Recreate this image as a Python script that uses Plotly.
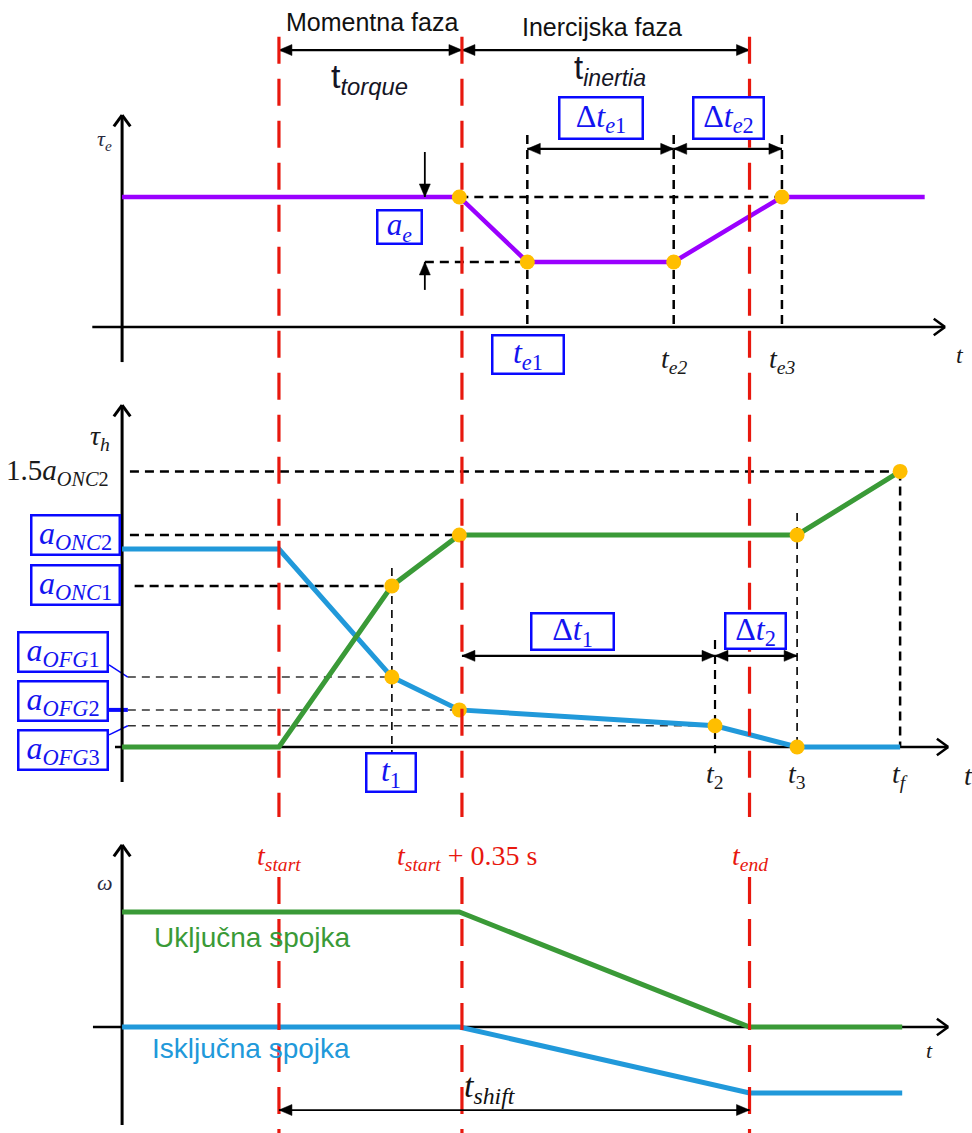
import math
import plotly.graph_objects as go

# ---------------- time instants (s) ----------------
T0 = 0.0
T_START = 0.30
T_TORQUE = 0.35
T_SYNC = T_START + T_TORQUE
T_END = 1.20
T_KNEE = 0.645
T_E1, T_E2, T_E3 = 0.775, 1.055, 1.262
T_1, T_2, T_3, T_F = 0.516, 1.134, 1.291, 1.488
T_TAIL_E = 1.535
T_TAIL = 1.492

# ---------------- engine torque tau_e ----------------
tau_e_t = [T0, T_KNEE, T_E1, T_E2, T_E3, T_TAIL_E]
tau_e_v = [1.0, 1.0, 0.5, 0.5, 1.0, 1.0]
tau_e_dot_t = [T_KNEE, T_E1, T_E2, T_E3]
tau_e_dot_v = [1.0, 0.5, 0.5, 1.0]
TAU_E_HI, TAU_E_LO = 1.0, 0.5

# ---------------- clutch torques tau_h ----------------
A_ONC2, A_ONC1 = 1.0, 0.76
A_OFG0 = 0.934
A_OFG1, A_OFG2, A_OFG3 = 0.33, 0.175, 0.10
A_PEAK = 1.30
off_t = [T0, T_START, T_1, T_KNEE, T_2, T_3, T_F]
off_v = [A_OFG0, A_OFG0, A_OFG1, A_OFG2, A_OFG3, 0.0, 0.0]
on_t = [T0, T_START, T_1, T_KNEE, T_3, T_F]
on_v = [0.0, 0.0, A_ONC1, A_ONC2, A_ONC2, A_PEAK]
dots_h_t = [T_1, T_1, T_KNEE, T_KNEE, T_2, T_3, T_3, T_F]
dots_h_v = [A_ONC1, A_OFG1, A_ONC2, A_OFG2, A_OFG3, A_ONC2, 0.0, A_PEAK]

# ---------------- slip speeds omega ----------------
w_t = [T0, T_KNEE, T_END, T_TAIL]
w_on_v = [1.0, 1.0, 0.0, 0.0]
w_off_v = [0.0, 0.0, -0.574, -0.574]

# ---------------- axis ranges ----------------
W, H = 972, 1133
X_RANGE = [-0.2335, 1.6255]
Y_RANGES = {"y": [-6.2, 2.515], "y2": [-1.8208, 3.5236], "y3": [-0.9217, 8.9304]}
SX = W / (X_RANGE[1] - X_RANGE[0])
SY = {k: H / (r[1] - r[0]) for k, r in Y_RANGES.items()}

# ---------------- styling ----------------
SERIF = "Liberation Serif"
SANS = "Liberation Sans"
PURPLE = "#9A00FF"
GREEN = "#3A9A37"
BLUE = "#2199DA"
ORANGE = "#FFBE00"
RED = "#E8180E"
BOXBLUE = "#0A0AFF"
BLACK = "#000000"
DASH = "9px,6px"
THIN = "8px,6px"

fig = go.Figure()


def line(xs, ys, yax, color, width, dash="solid"):
    fig.add_trace(go.Scatter(x=xs, y=ys, yaxis=yax, mode="lines",
                             line=dict(color=color, width=width, dash=dash),
                             hoverinfo="skip", showlegend=False))


def dots(xs, ys, yax):
    fig.add_trace(go.Scatter(x=xs, y=ys, yaxis=yax, mode="markers",
                             marker=dict(color=ORANGE, size=15, line=dict(width=0)),
                             hoverinfo="skip", showlegend=False))


def heading(x0, y0, x1, y1, yax):
    # screen direction (radians, clockwise from up) of x0,y0 -> x1,y1
    dx = (x1 - x0) * SX
    dy = (y1 - y0) * SY[yax]
    return math.atan2(dx, dy)


def offset(x, y, ang, dist, yax):
    return x + dist * math.sin(ang) / SX, y + dist * math.cos(ang) / SY[yax]


def head(x, y, ang, yax, length=13, half=5.5):
    # filled triangular arrowhead with its tip at (x, y)
    bx, by = offset(x, y, ang + math.pi, length, yax)
    p1 = offset(bx, by, ang + math.pi / 2, half, yax)
    p2 = offset(bx, by, ang - math.pi / 2, half, yax)
    fig.add_trace(go.Scatter(x=[x, p1[0], p2[0], x], y=[y, p1[1], p2[1], y],
                             yaxis=yax, mode="lines", fill="toself",
                             fillcolor=BLACK, line=dict(color=BLACK, width=0.5),
                             hoverinfo="skip", showlegend=False))


def dim_arrow(x0, y0, x1, y1, yax, width=2.2, both=True):
    ang = heading(x0, y0, x1, y1, yax)
    line([x0, x1], [y0, y1], yax, BLACK, width)
    head(x1, y1, ang, yax)
    if both:
        head(x0, y0, ang + math.pi, yax)


def axis_arrow(x0, y0, x1, y1, yax, width=3, arm=14, spread=36):
    # axis line finished with an open chevron at (x1, y1)
    ang = heading(x0, y0, x1, y1, yax)
    xs, ys = [x0, x1, None], [y0, y1, None]
    for s in (-1, 1):
        ax_, ay_ = offset(x1, y1, ang + math.pi + s * math.radians(spread), arm, yax)
        xs += [ax_, x1, None]
        ys += [ay_, y1, None]
    fig.add_trace(go.Scatter(x=xs, y=ys, yaxis=yax, mode="lines",
                             line=dict(color=BLACK, width=width),
                             hoverinfo="skip", showlegend=False))


# ---- panel 1 guides ----
line([T_KNEE, T_E3], [TAU_E_HI, TAU_E_HI], "y", BLACK, 2.5, DASH)
line([0.579, T_E1], [TAU_E_LO, TAU_E_LO], "y", BLACK, 2.5, DASH)
for tt in (T_E1, T_E2, T_E3):
    line([tt, tt], [1.477, 0.0], "y", BLACK, 2.5, DASH)

# ---- panel 2 guides ----
line([0.015, T_F], [A_PEAK, A_PEAK], "y2", BLACK, 2.5, DASH)
line([0.015, T_KNEE], [A_ONC2, A_ONC2], "y2", BLACK, 2.5, DASH)
line([0.024, T_1], [A_ONC1, A_ONC1], "y2", BLACK, 2.5, DASH)
line([0.011, T_1], [A_OFG1, A_OFG1], "y2", "#333333", 1.5, THIN)
line([0.011, T_KNEE], [A_OFG2, A_OFG2], "y2", "#333333", 1.5, THIN)
line([0.011, T_2], [A_OFG3, A_OFG3], "y2", "#333333", 1.5, THIN)
line([T_1, T_1], [0.844, -0.03], "y2", BLACK, 1.6, THIN)
line([T_2, T_2], [0.505, -0.03], "y2", BLACK, 2.2, DASH)
line([T_3, T_3], [1.104, 0.0], "y2", BLACK, 1.6, THIN)
line([T_F, T_F], [A_PEAK, 0.0], "y2", BLACK, 2.5, DASH)

# label connectors
line([-0.025, 0.011], [0.387, A_OFG1], "y2", BOXBLUE, 1.5)
line([-0.025, 0.011], [A_OFG2, A_OFG2], "y2", BOXBLUE, 4)
line([-0.025, 0.011], [0.057, A_OFG3], "y2", BOXBLUE, 1.5)

# ---- coordinate axes ----
axis_arrow(T0, -0.27, T0, 1.63, "y")
axis_arrow(-0.057, 0, 1.574, 0, "y", width=2.5)
axis_arrow(T0, -0.165, T0, 1.613, "y2")
axis_arrow(-0.0136, 0, 1.58, 0, "y2", width=2.5)
axis_arrow(T0, -0.852, T0, 1.583, "y3")
axis_arrow(-0.0557, 0, 1.58, 0, "y3", width=2.5)

# ---- curves ----
line(tau_e_t, tau_e_v, "y", PURPLE, 4.5)
line(off_t, off_v, "y2", BLUE, 5)
line(on_t, on_v, "y2", GREEN, 5)
line(w_t, w_on_v, "y3", GREEN, 5)
line(w_t, w_off_v, "y3", BLUE, 5)

# ---- phase boundaries ----
for tt in (T_START, T_SYNC, T_END):
    line([tt, tt, None, tt, tt], [8.61, 1.826, None, 1.304, -0.93], "y3",
         RED, 3.2, "27px,15px")

dots(tau_e_dot_t, tau_e_dot_v, "y")
dots(dots_h_t, dots_h_v, "y2")

# ---- dimension arrows ----
dim_arrow(T_START, 2.13, T_SYNC, 2.13, "y")
dim_arrow(T_SYNC, 2.13, T_END, 2.13, "y")
dim_arrow(T_E1, 1.37, T_E2, 1.37, "y")
dim_arrow(T_E2, 1.37, T_E3, 1.37, "y")
dim_arrow(0.579, 1.346, 0.579, TAU_E_HI, "y", width=1.8, both=False)
dim_arrow(0.579, 0.285, 0.579, TAU_E_LO, "y", width=1.8, both=False)
dim_arrow(T_SYNC, 0.43, T_2, 0.43, "y2")
dim_arrow(T_2, 0.43, T_3, 0.43, "y2")
dim_arrow(T_START, -0.722, T_END, -0.722, "y3", width=1.8)

ann = []


def text(x, y, yref, s, size, family=SERIF, color="#1a1a1a", xanchor="center"):
    ann.append(dict(x=x, y=y, xref="x", yref=yref, text=s, showarrow=False,
                    xanchor=xanchor, yanchor="middle",
                    font=dict(family=family, size=size, color=color)))


def box(x, y, yref, s, w, h, size=30):
    ann.append(dict(x=x, y=y, xref="x", yref=yref, text=s, showarrow=False,
                    xanchor="center", yanchor="middle", width=w - 4, height=h - 4,
                    bordercolor=BOXBLUE, borderwidth=2.5, borderpad=0,
                    bgcolor="white",
                    font=dict(family=SERIF, size=size, color="#1414F0")))


# ---- phase titles ----
text(0.478, 2.346, "y", "Momentna faza", 25, SANS, "#111111")
text(0.918, 2.31, "y", "Inercijska faza", 25, SANS, "#111111")
text(0.474, 1.915, "y", "t<sub><i>torque</i></sub>", 34, SANS, "#151525")
text(0.933, 1.977, "y", "t<sub><i>inertia</i></sub>", 33, SANS, "#151525")

# ---- panel 1 labels ----
text(-0.033, 1.438, "y", "<i>τ<sub>e</sub></i>", 22, SERIF, "#2a2a40")
text(1.603, -0.215, "y", "<i>t</i>", 24)
text(T_E2, -0.26, "y", "<i>t<sub>e2</sub></i>", 28)
text(T_E3, -0.26, "y", "<i>t<sub>e3</sub></i>", 28)
box(0.5297, 0.77, "y", "<i>a<sub>e</sub></i>", 46, 35, 31)
box(0.915, 1.604, "y", "Δ<i>t<sub>e</sub></i><sub>1</sub>", 85, 43, 32)
box(1.159, 1.604, "y", "Δ<i>t<sub>e</sub></i><sub>2</sub>", 72, 43, 32)
box(0.7754, -0.215, "y", "<i>t<sub>e</sub></i><sub>1</sub>", 73, 40, 32)

# ---- panel 2 labels ----
text(-0.042, 1.462, "y2", "<i>τ<sub>h</sub></i>", 28, SERIF, "#1a1a1a")
text(-0.1226, 1.297, "y2", "1.5<i>a<sub>ONC</sub></i><sub>2</sub>", 29)
box(-0.0882, 1.0, "y2", "<i>a<sub>ONC</sub></i><sub>2</sub>", 90, 41, 32)
box(-0.0882, 0.762, "y2", "<i>a<sub>ONC</sub></i><sub>1</sub>", 90, 41, 32)
box(-0.1121, 0.446, "y2", "<i>a<sub>OFG</sub></i><sub>1</sub>", 91, 41, 32)
box(-0.1121, 0.219, "y2", "<i>a<sub>OFG</sub></i><sub>2</sub>", 91, 41, 32)
box(-0.1121, -0.012, "y2", "<i>a<sub>OFG</sub></i><sub>3</sub>", 91, 41, 32)
box(0.8605, 0.547, "y2", "Δ<i>t</i><sub>1</sub>", 84, 38, 32)
box(1.2123, 0.547, "y2", "Δ<i>t</i><sub>2</sub>", 62, 37, 32)
box(0.5152, -0.118, "y2", "<i>t</i><sub>1</sub>", 51, 40, 32)
text(T_2, -0.135, "y2", "<i>t</i><sub>2</sub>", 28)
text(T_3, -0.135, "y2", "<i>t</i><sub>3</sub>", 28)
text(T_F, -0.135, "y2", "<i>t<sub>f</sub></i>", 28)
text(1.618, -0.135, "y2", "<i>t</i>", 28)

# ---- panel 3 labels ----
text(-0.033, 1.26, "y3", "<i>ω</i>", 22, SERIF, "#2a2a40")
text(1.545, -0.2, "y3", "<i>t</i>", 22)
text(T_START, 1.47, "y3", "<i>t<sub>start</sub></i>", 28, SERIF, RED)
text(T_SYNC + 0.01, 1.47, "y3", "<i>t<sub>start</sub></i> + 0.35 s", 28, SERIF, RED)
text(T_END, 1.47, "y3", "<i>t<sub>end</sub></i>", 28, SERIF, RED)
text(0.057, 0.774, "y3", "Uključna spojka", 28, SANS, GREEN, "left")
text(0.053, -0.183, "y3", "Isključna spojka", 28, SANS, BLUE, "left")
text(0.704, -0.53, "y3", "<i>t<sub>shift</sub></i>", 34, SERIF, "#111111")

fig.update_layout(
    width=W, height=H,
    margin=dict(l=0, r=0, t=0, b=0),
    paper_bgcolor="white", plot_bgcolor="white",
    showlegend=False,
    annotations=ann,
    xaxis=dict(range=X_RANGE, visible=False, fixedrange=True),
    yaxis=dict(range=Y_RANGES["y"], visible=False, domain=[0, 1]),
    yaxis2=dict(range=Y_RANGES["y2"], visible=False, overlaying="y"),
    yaxis3=dict(range=Y_RANGES["y3"], visible=False, overlaying="y"),
)

fig.write_html("out.html")
